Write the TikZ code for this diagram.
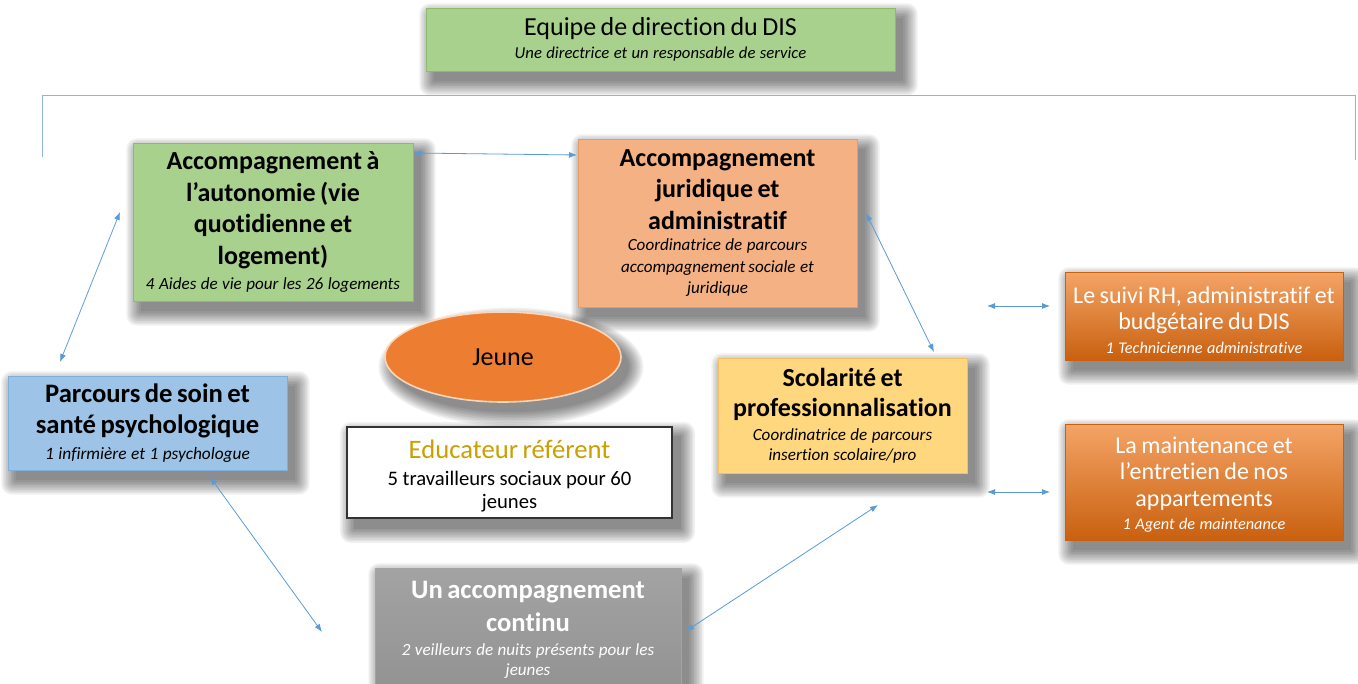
\documentclass[tikz,border=0pt]{standalone}
\usepackage{fontspec}
\setmainfont{Carlito}[RawFeature=-liga]
\usetikzlibrary{arrows.meta,shapes.geometric,calc,backgrounds}
\definecolor{dgreen}{HTML}{A9D18E}
\definecolor{dgreenb}{HTML}{8DBB6E}
\definecolor{salmon}{HTML}{F4B183}
\definecolor{salmonb}{HTML}{E59A68}
\definecolor{lblue}{HTML}{9DC3E6}
\definecolor{lblueb}{HTML}{7FAEDC}
\definecolor{scolc}{HTML}{FFD77E}
\definecolor{scolb}{HTML}{F2C060}
\definecolor{orng}{HTML}{ED7D31}
\definecolor{orngtop}{HTML}{F4A466}
\definecolor{orngbot}{HTML}{C9600F}
\definecolor{grayc}{HTML}{A3A3A3}
\definecolor{graybot}{HTML}{939393}
\definecolor{arrowblue}{HTML}{5B9BD5}
\definecolor{lineblue}{HTML}{8EB3DD}
\definecolor{gold}{HTML}{C9A000}
\newcommand{\fs}[2]{\fontsize{#1}{#2}\selectfont}
\newcommand{\bigbf}{\fs{19.5}{23.6}\bfseries}
\newcommand{\smit}[2]{\normalfont\fs{#1}{#2}\itshape}
\begin{document}
\begin{tikzpicture}[x=0.75pt,y=-0.75pt,
  box/.style={draw, line width=0.5pt, align=center, inner sep=0pt},
  shade/.style={fill=black, fill opacity=0.055},
  link/.style={draw=arrowblue, line width=0.6pt, {Latex[length=6pt,width=4.5pt]}-{Latex[length=6pt,width=4.5pt]}}
]
\useasboundingbox (0,0) rectangle (1358,684);
% bracket
\coordinate (bl) at (42,157);
\coordinate (br) at (1355,160);
\draw[lineblue, line width=0.6pt] (bl) -- (42,95) -- (1355,95) -- (br);

\node[box, fill=dgreen, draw=dgreenb, minimum width=469*0.75pt, minimum height=63*0.75pt, text width=460*0.75pt] (top) at (660.5,39.5)
  {\fs{19.5}{22}Equipe de direction du DIS\par\smit{12.5}{17}Une directrice et un responsable de service\par\vspace{-5.25pt}};

\node[box, fill=dgreen, draw=dgreenb, minimum width=280*0.75pt, minimum height=158*0.75pt, text width=272*0.75pt] (auto) at (273,222)
  {\bigbf Accompagnement à\\ l’autonomie (vie\\ quotidienne et\\ logement)\par\smit{12.8}{19}4 Aides de vie pour les 26 logements\par\vspace{-3pt}};

\node[box, fill=salmon, draw=salmonb, minimum width=279*0.75pt, minimum height=168*0.75pt, text width=270*0.75pt] (jur) at (717.5,223)
  {\bigbf Accompagnement\\ juridique et\\ administratif\par\smit{12.8}{16}Coordinatrice de parcours\\ accompagnement\hspace{-1pt} sociale et\\ juridique\par\vspace{-5.25pt}};

\node[ellipse, draw=orngtop!45!white, line width=1.2pt, fill=orng, minimum width=236*0.75pt, minimum height=90*0.75pt] (jeune) at (503,357)
  {\fs{19.5}{22}Jeune};

\node[box, top color=orngtop, bottom color=orngbot, draw=orngbot, text=white, minimum width=278*0.75pt, minimum height=88*0.75pt, text width=274*0.75pt] (rh) at (1204,316)
  {\fs{18}{20}Le suivi RH, administratif et\\ budgétaire du DIS\par\smit{12.2}{18}1 Technicienne administrative\par\vspace{-6.5pt}};

\node[box, top color=orngtop, bottom color=orngbot, draw=orngbot, text=white, minimum width=278*0.75pt, minimum height=116*0.75pt, text width=274*0.75pt] (maint) at (1204,482)
  {\fs{18}{20}La maintenance et\\ l’entretien de nos\\ appartements\par\smit{12.2}{17.5}1 Agent de maintenance\par\vspace{-3.75pt}};

\node[box, fill=lblue, draw=lblueb, minimum width=279*0.75pt, minimum height=94*0.75pt, text width=274*0.75pt] (soin) at (147.5,423)
  {\fs{20}{23.2}\bfseries Parcours de soin et\\ santé psychologique\par\smit{13}{19.5}1 infirmière et 1 psychologue\par\vspace{-4.5pt}};

\node[box, fill=white, draw=black!80, line width=0.9pt, minimum width=325*0.75pt, minimum height=91*0.75pt, text width=316*0.75pt] (educ) at (509.5,472.5)
  {\fs{20}{22}\color{gold}Educateur référent\par\vspace{2.5pt}\fs{15.5}{17.25}\color{black}5 travailleurs sociaux pour 60\\ jeunes\par\vspace{-5.25pt}};

\node[box, fill=scolc, draw=scolb, minimum width=249*0.75pt, minimum height=115*0.75pt, text width=246*0.75pt] (scol) at (842.5,415.5)
  {\fs{19.5}{22.5}\bfseries Scolarité et\\ professionnalisation\par\vspace{3pt}\smit{12.8}{15}Coordinatrice de parcours\\ insertion scolaire/pro\par\vspace{-1.75pt}};

\node[box, top color=grayc, bottom color=graybot, draw=grayc, text=white, minimum width=306*0.75pt, minimum height=118*0.75pt, text width=304*0.75pt] (cont) at (528,627)
  {\fs{20}{24.75}\bfseries Un accompagnement\\ continu\par\vspace{3pt}\smit{12.8}{15}2 veilleurs de nuits présents pour les\\ jeunes\par\vspace{-4.5pt}};

% shadows
\begin{pgfonlayer}{background}
\fill[white] (0,0) rectangle (1358,684);
\foreach \n in {top,auto,jur,rh,maint,soin,educ,scol,cont}{
  \foreach \k in {0,...,9}{
    \fill[shade, rounded corners=\k*0.9pt] ($(\n.south west)+(8-\k*1.6,10+\k*1.6)$) rectangle ($(\n.north east)+(8+\k*1.6,10-\k*1.6)$);
  }
}
\foreach \k in {0,...,9}{
  \fill[shade] ($(jeune.center)+(8,10)$) ellipse [x radius={(118+\k*1.6)*0.75pt}, y radius={(45+\k*1.6)*0.75pt}];
}
\end{pgfonlayer}

% arrows
\coordinate (a1) at (413,153); \coordinate (a2) at (577,155);
\coordinate (b1) at (120,212); \coordinate (b2) at (60,362);
\coordinate (c1) at (866,213); \coordinate (c2) at (934,352);
\coordinate (d1) at (987,306); \coordinate (d2) at (1050,306);
\coordinate (e1) at (987,492); \coordinate (e2) at (1050,492);
\coordinate (f1) at (210,477); \coordinate (f2) at (322,632);
\coordinate (g1) at (878,505); \coordinate (g2) at (686,631);
\draw[link] (a1) -- (a2);
\draw[link] (b1) -- (b2);
\draw[link] (c1) -- (c2);
\draw[link] (d1) -- (d2);
\draw[link] (e1) -- (e2);
\draw[link] (f1) -- (f2);
\draw[link] (g1) -- (g2);
\end{tikzpicture}
\end{document}
